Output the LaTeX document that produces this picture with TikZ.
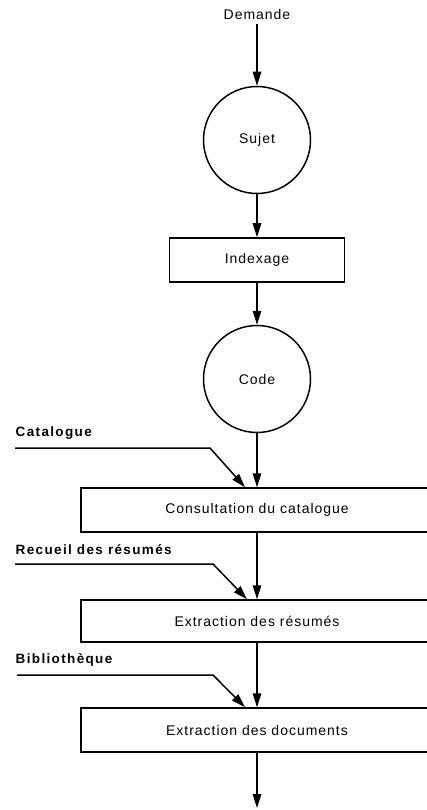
\documentclass[tikz,border=0pt]{standalone}
\usepackage{fontspec}
\setmainfont{Liberation Sans}[LetterSpace=7]
\newfontfamily\grasfont{Liberation Sans}[LetterSpace=10]
\usetikzlibrary{arrows.meta,positioning}

\begin{document}
\begin{tikzpicture}[x=1pt,y=-1pt,
	line width=1.5pt,
	etat/.style={draw, circle, minimum size=107pt, inner sep=0pt, font=\fontsize{14}{16}\selectfont},
	proc/.style={draw, rectangle, minimum height=44pt, inner sep=0pt, font=\fontsize{14}{16}\selectfont},
	fonds/.style={font=\fontsize{13.5}{16}\grasfont\bfseries, anchor=west, inner sep=0pt},
	fleche/.style={-{Triangle[length=14pt,width=8.5pt]}}]
	%%%%% START %%%%%
	
	\useasboundingbox (0,0) rectangle (427,810);
	\clip (0,0) rectangle (427,810);
	
	\node[font=\fontsize{14}{16}\selectfont] (dem) at (257,15) {Demande};
	\node[etat] (sujet) at (257,140) {Sujet};
	\node[proc, minimum width=175pt] (index) at (257,260) {Indexage};
	\node[etat] (code) at (257,379) {Code};
	
	\node[proc, minimum width=352pt] (cons) at (257,510) {Consultation du catalogue};
	\node[proc, minimum width=352pt, minimum height=42pt] (resu) at (257,621) {Extraction des résumés};
	\node[proc, minimum width=352pt] (docs) at (257,730) {Extraction des documents};
	\coordinate (fin) at (257,808);
	
	\node[fonds] (cat) at (15,433) {Catalogue};
	\node[fonds] (rec) at (15,550) {Recueil des résumés};
	\node[fonds] (bib) at (15,660) {Bibliothèque};
	
	\coordinate (cat-a) at (15,448);
	\coordinate (cat-b) at (210,448);
	\coordinate (rec-a) at (15,564);
	\coordinate (rec-b) at (213,564);
	\coordinate (bib-a) at (17,675);
	\coordinate (bib-b) at (213,675);
	
	\draw[fleche] (dem) -- (sujet);
	\draw[fleche] (sujet) -- (index);
	\draw[fleche] (index) -- (code);
	\draw[fleche] (code) -- (cons);
	\draw[fleche] (cons) -- (resu);
	\draw[fleche] (resu) -- (docs);
	\draw[fleche] (docs) -- (fin);
	
	\draw[fleche] (cat-a) -- (cat-b) -- ([xshift=-12pt]cons.north);
	\draw[fleche] (rec-a) -- (rec-b) -- ([xshift=-10pt]resu.north);
	\draw[fleche] (bib-a) -- (bib-b) -- ([xshift=-12pt]docs.north);
	
	%%%%% END %%%%%
\end{tikzpicture}
\end{document}
